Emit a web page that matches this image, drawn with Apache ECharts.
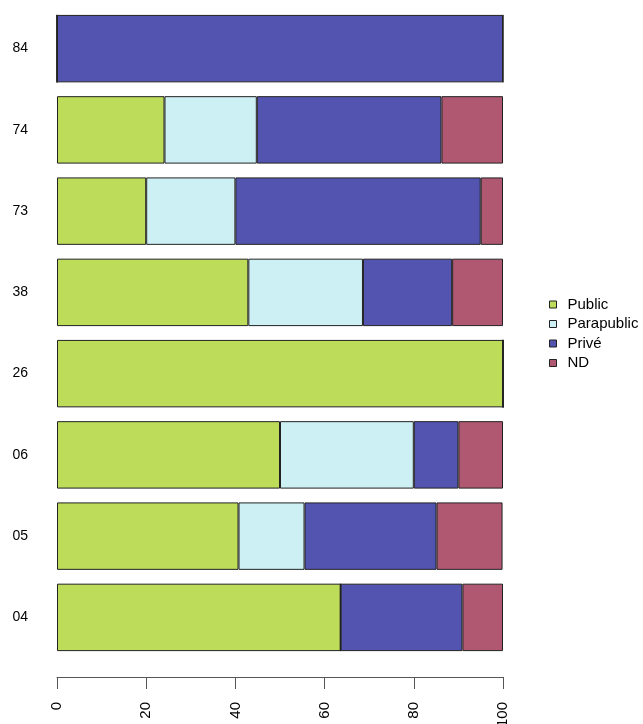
<!DOCTYPE html>
<html>
<head>
<meta charset="utf-8">
<script src="https://cdn.jsdelivr.net/npm/echarts@6/dist/echarts.min.js"></script>
<style>
html,body{margin:0;padding:0;background:#fff;}
#c{width:643px;height:724px;}
</style>
</head>
<body>
<div id="c"></div>
<script>
const categories = ['04','05','06','26','38','73','74','84'];
const seriesNames = ['Public','Parapublic','Privé','ND'];
const publicVals = [63.6, 40.7, 50, 100, 42.9, 20, 24.1, 0];
const parapublicVals = [0, 14.8, 30, 0, 25.7, 20, 20.7, 0];
const priveVals = [27.3, 29.6, 10, 0, 20, 55, 41.4, 100];
const ndVals = [9.1, 14.8, 10, 0, 11.4, 5, 13.8, 0];
const xTicks = [0, 20, 40, 60, 80, 100];

const colors = ['#BCDC5A', '#CCF0F4', '#5254B0', '#B05872'];
const valueSets = [publicVals, parapublicVals, priveVals, ndVals];
const FONT = '"Liberation Sans", Arial, sans-serif';

const chart = echarts.init(document.getElementById('c'), null, {renderer: 'canvas'});
chart.setOption({
  animation: false,
  backgroundColor: '#ffffff',
  grid: {left: 57, right: 140, top: 8, bottom: 66, containLabel: false, outerBoundsMode: 'none'},
  legend: {
    orient: 'vertical',
    left: 549,
    top: 297,
    padding: 0,
    itemWidth: 7,
    itemHeight: 7,
    itemGap: 4.5,
    icon: 'rect',
    data: seriesNames,
    textStyle: {fontFamily: FONT, fontSize: 15, color: '#000', padding: [0, 0, 0, 6]},
    itemStyle: {borderColor: '#222', borderWidth: 1}
  },
  xAxis: {
    type: 'value',
    min: xTicks[0],
    max: xTicks[xTicks.length - 1],
    interval: 20,
    position: 'bottom',
    offset: 19,
    axisLine: {show: true, lineStyle: {color: '#555', width: 1}},
    axisTick: {show: true, length: 12, lineStyle: {color: '#555'}},
    axisLabel: {rotate: 90, margin: 25, fontFamily: FONT, fontSize: 15, color: '#000'},
    splitLine: {show: false}
  },
  yAxis: {
    type: 'category',
    data: categories,
    axisLine: {show: false},
    axisTick: {show: false},
    axisLabel: {margin: 29, fontFamily: FONT, fontSize: 14, color: '#000'}
  },
  series: seriesNames.map((name, i) => ({
    name: name,
    type: 'bar',
    stack: 'total',
    barWidth: '83%',
    data: valueSets[i],
    itemStyle: {color: colors[i], borderColor: '#222', borderWidth: 1}
  }))
});
</script>
</body>
</html>
